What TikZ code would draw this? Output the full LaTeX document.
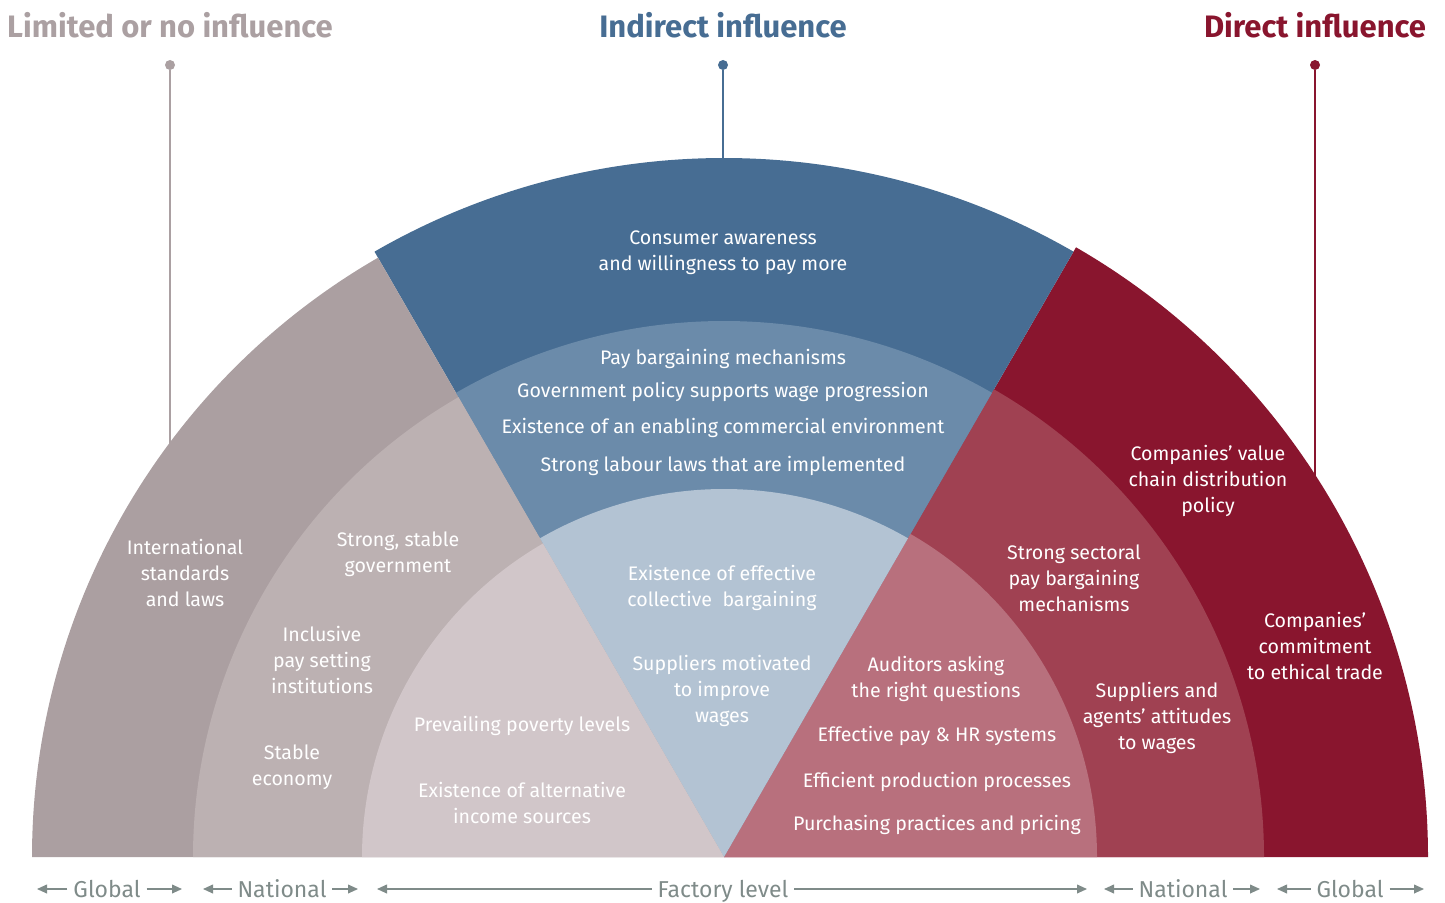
\documentclass[tikz,border=0pt]{standalone}
\usepackage{fontspec}
\setmainfont{Fira Sans}
\usetikzlibrary{positioning,arrows,arrows.meta,calc}

\definecolor{grayO}{HTML}{AB9FA1}
\definecolor{grayM}{HTML}{BCB1B2}
\definecolor{grayI}{HTML}{D1C6C9}
\definecolor{blueO}{HTML}{476D93}
\definecolor{blueM}{HTML}{6B8BAA}
\definecolor{blueI}{HTML}{B3C3D3}
\definecolor{redO}{HTML}{89152E}
\definecolor{redM}{HTML}{A04152}
\definecolor{redI}{HTML}{B8707D}
\definecolor{grayT}{HTML}{ABA0A2}
\definecolor{axisgray}{HTML}{7F8B89}

\begin{document}
\begin{tikzpicture}[x=0.5pt,y=0.5pt,
    every node/.style={inner sep=0,outer sep=0},
    lbl/.style={text=white,align=center,font=\fontsize{9.8}{13}\selectfont},
    title/.style={font=\fontsize{15.5}{18}\selectfont\bfseries},
    pin/.style={line width=1pt},
    pindot/.style={circle,minimum size=5pt},
    axislabel/.style={text=axisgray,anchor=base,font=\fontsize{11.5}{13}\selectfont},
    axisarrow/.style={-{Triangle[length=5pt,width=4.4pt]},draw=axisgray,line width=0.7pt}]

    \useasboundingbox (0,0) rectangle (1445,902);
    \coordinate (c) at (724,45);

    % pins and headings
    \node[pindot,fill=grayT] (dotL) at (170,837) {};
    \node[pindot,fill=blueO] (dotI) at (723,837) {};
    \node[pindot,fill=redO]  (dotD) at (1315,837) {};
    \node[title,text=grayT,above=11pt of dotL] (tLimited) {Limited or no influence};
    \node[title,text=blueO,above=11pt of dotI] (tIndirect) {Indirect influence};
    \node[title,text=redO,above=11pt of dotD] (tDirect) {Direct influence};
    \coordinate (endL) at (170,440);
    \coordinate (endI) at (723,700);
    \coordinate (endD) at (1315,390);
    \draw[pin,grayT] (dotL) -- (endL);
    \draw[pin,blueO] (dotI) -- (endI);
    \draw[pin,redO]  (dotD) -- (endD);

    % rings, outside in
    \foreach \rg/\rb/\rr/\g/\b/\d in {692/699/704/grayO/blueO/redO,
                                       531/536/540/grayM/blueM/redM,
                                       362/368/373/grayI/blueI/redI} {
        \fill[\d] (c) -- ++(0:\rr) arc[start angle=0,end angle=60,radius=\rr] -- cycle;
        \fill[\b] (c) -- ++(60:\rb) arc[start angle=60,end angle=120,radius=\rb] -- cycle;
        \fill[\g] (c) -- ++(120:\rg) arc[start angle=120,end angle=180,radius=\rg] -- cycle;
    }

    % limited or no influence
    \node[lbl] (intl) at (185,329.5) {International\\standards\\and laws};
    \node[lbl] (govt) at (398,348) {Strong, stable\\government};
    \node[lbl] (incl) at (322,242) {Inclusive\\pay setting\\institutions};
    \node[lbl] (econ) at (292,135) {Stable\\economy};
    \node[lbl] (pov)  at (522,176) {Prevailing poverty levels};
    \node[lbl] (alt)  at (522,99)  {Existence of alternative\\income sources};

    % indirect influence
    \node[lbl] (cons) at (723,649) {Consumer awareness\\and willingness to pay more};
    \node[lbl] (pay)  at (723,543) {Pay bargaining mechanisms};
    \node[lbl] (pol)  at (723,510) {Government policy supports wage progression};
    \node[lbl] (env)  at (723,474) {Existence of an enabling commercial environment};
    \node[lbl] (law)  at (723,436) {Strong labour laws that are implemented};
    \node[lbl] (coll) at (722,314.5) {Existence of effective\\collective\ \ bargaining};
    \node[lbl] (motv) at (722,211) {Suppliers motivated\\to improve\\wages};

    % direct influence
    \node[lbl] (aud)  at (936,223) {Auditors asking\\the right questions};
    \node[lbl] (hr)   at (937,166) {Effective pay \& HR systems};
    \node[lbl] (prod) at (937,120) {Efficient production processes};
    \node[lbl] (purc) at (937,77)  {Purchasing practices and pricing};
    \node[lbl] (sect) at (1074,324) {Strong sectoral\\pay bargaining\\mechanisms};
    \node[lbl] (agen) at (1157,184) {Suppliers and\\agents’ attitudes\\to wages};
    \node[lbl] (dist) at (1208,421) {Companies’ value\\chain distribution\\policy};
    \node[lbl] (ethi) at (1315,256) {Companies’\\commitment\\to ethical trade};

    % levels along the base
    \foreach \nm/\x/\a/\b/\txt in {gl/107/37/182/Global, nl/282/203/358/National,
        fl/723/377/1087/Factory level, nr/1183/1104/1260/National, gr/1350/1277/1424/Global} {
        \node[axislabel] (ax-\nm) at (\x,5) {\txt};
        \coordinate (ax-\nm-l) at (\a,13);
        \coordinate (ax-\nm-r) at (\b,13);
        \draw[axisarrow] ([xshift=-3pt]ax-\nm.west |- ax-\nm-l) -- (ax-\nm-l);
        \draw[axisarrow] ([xshift=3pt]ax-\nm.east |- ax-\nm-r) -- (ax-\nm-r);
    }

\end{tikzpicture}
\end{document}
